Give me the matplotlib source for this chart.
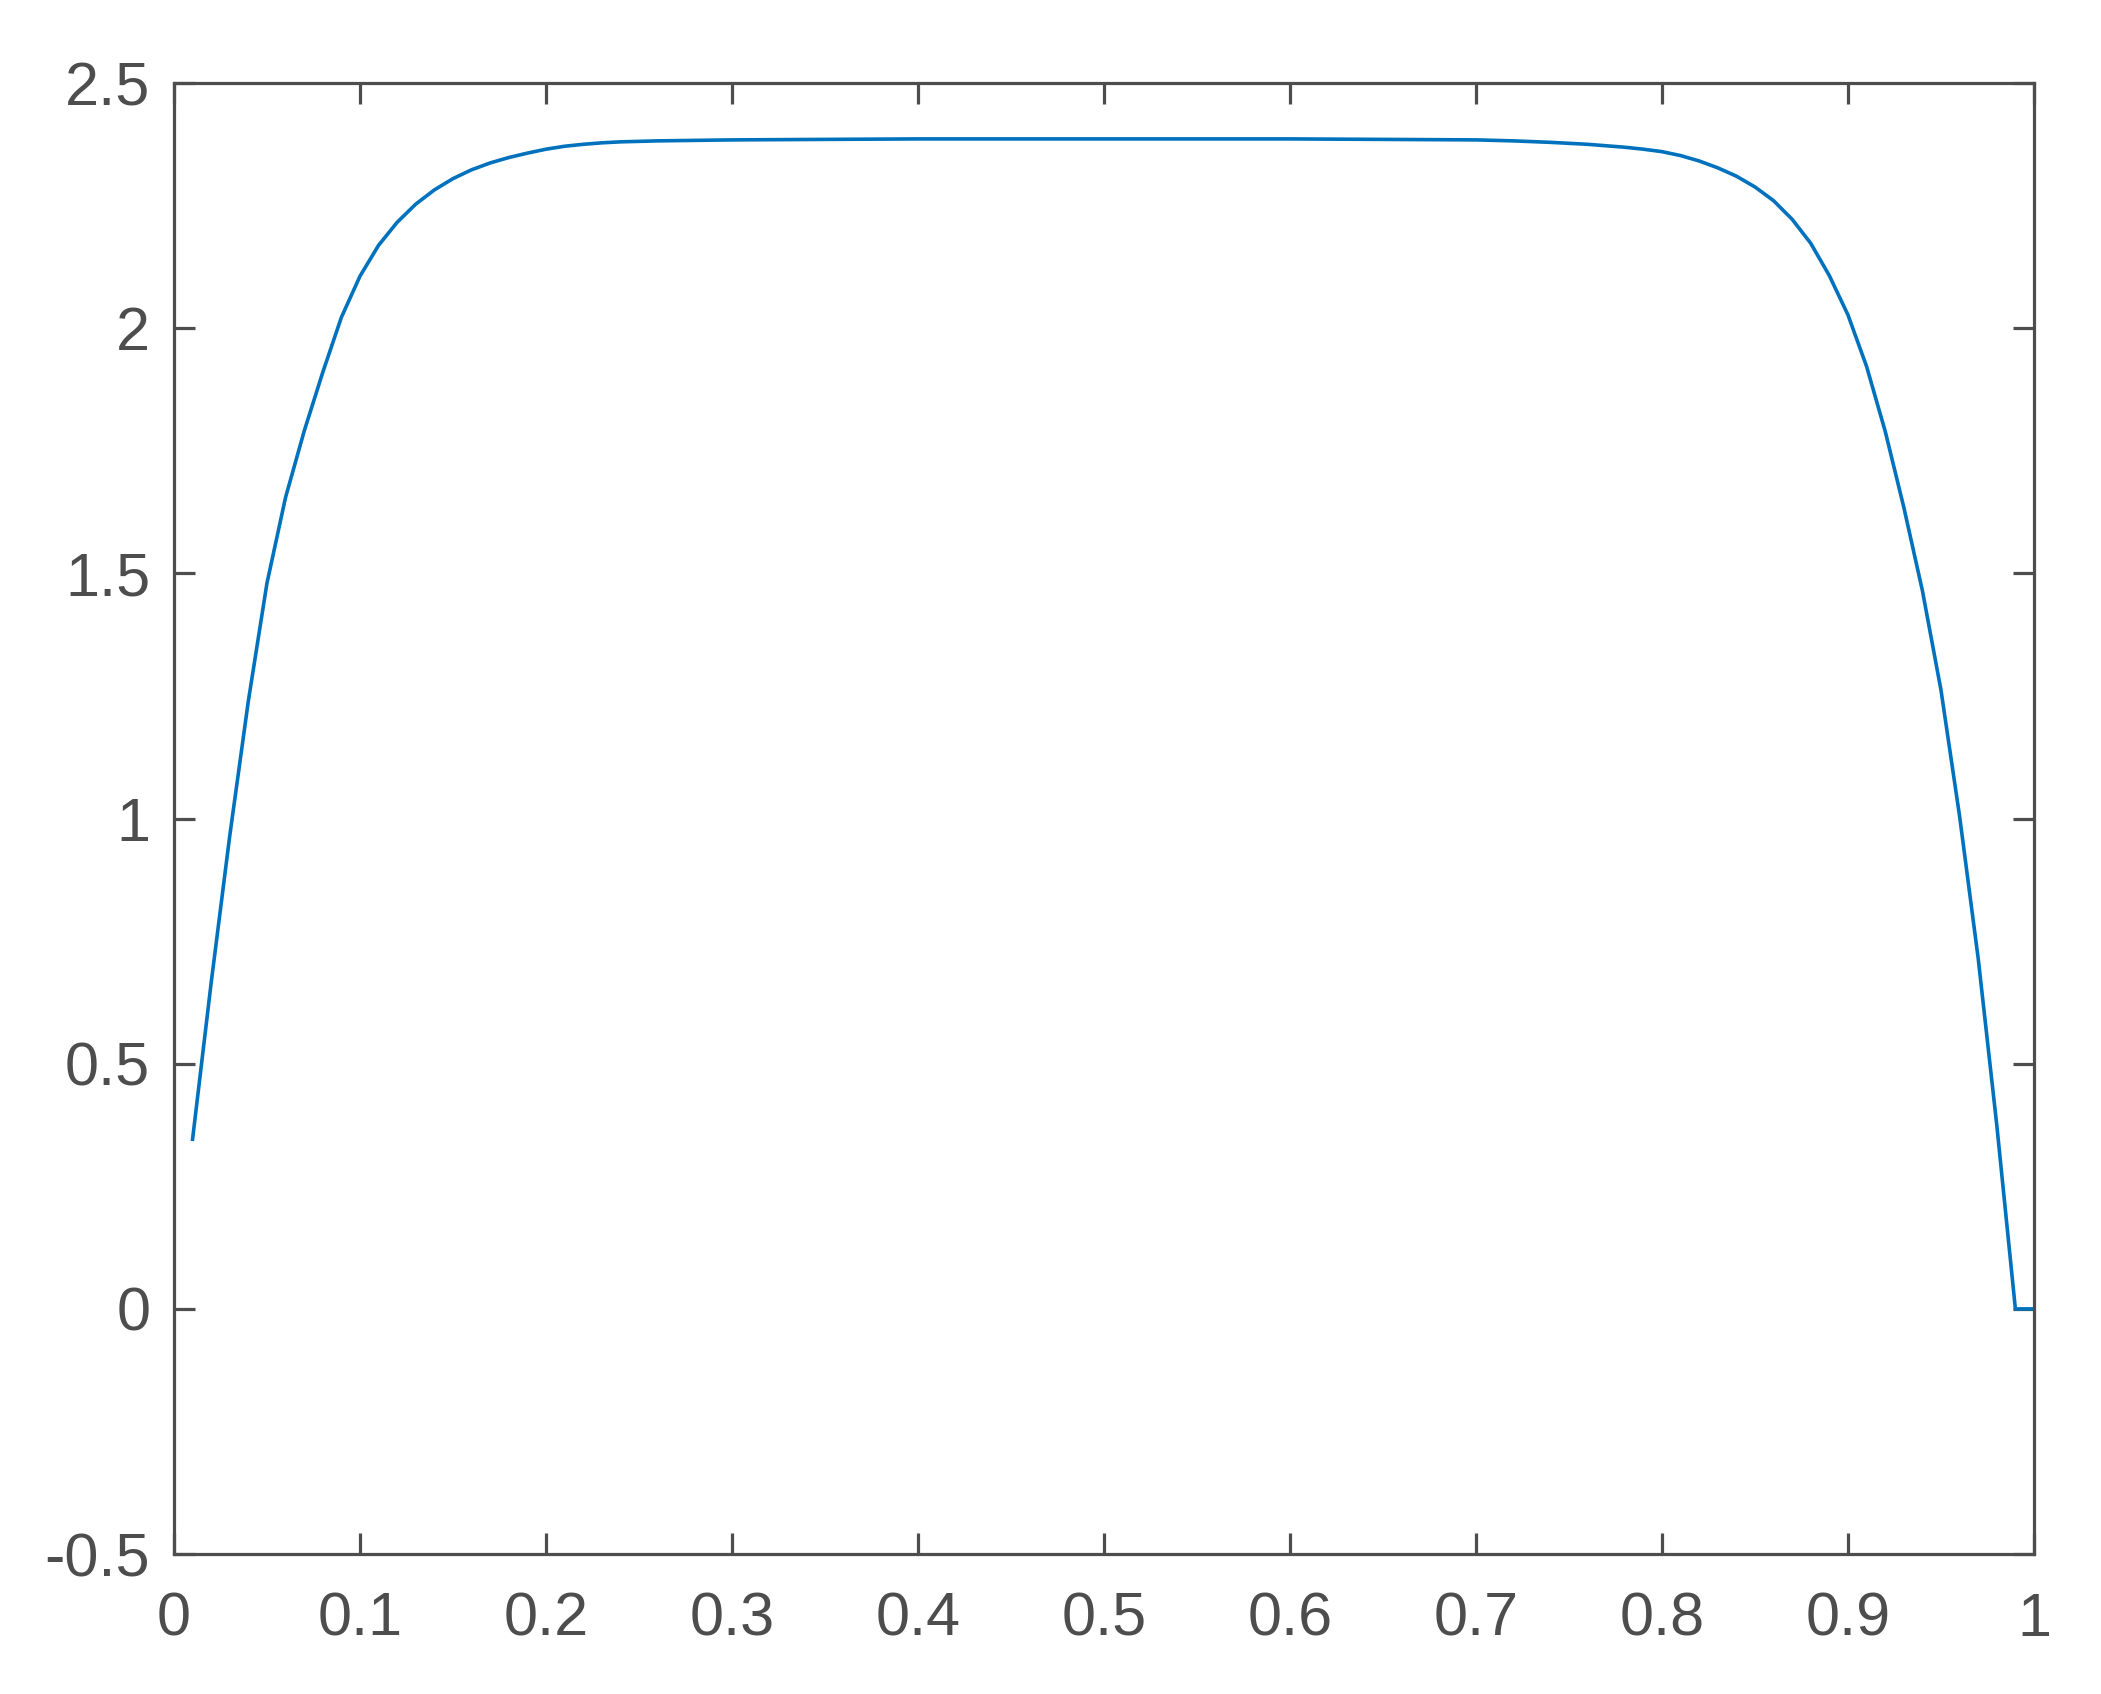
import numpy as np
import matplotlib
matplotlib.use("Agg")
import matplotlib.pyplot as plt

# values
x = [0.01, 0.02, 0.03, 0.04, 0.05, 0.06, 0.07, 0.08, 0.09, 0.10,
     0.11, 0.12, 0.13, 0.14, 0.15, 0.16, 0.17, 0.18, 0.19, 0.20,
     0.21, 0.22, 0.23, 0.24, 0.25, 0.26, 0.28, 0.30, 0.35, 0.40,
     0.50, 0.60, 0.65, 0.70, 0.72, 0.74, 0.76, 0.78, 0.79, 0.80,
     0.81, 0.82, 0.83, 0.84, 0.85, 0.86, 0.87, 0.88, 0.89, 0.90,
     0.91, 0.92, 0.93, 0.94, 0.95, 0.96, 0.97, 0.98, 0.99, 1.00]
y = [0.346, 0.665, 0.965, 1.24, 1.48, 1.655, 1.79, 1.91, 2.022, 2.106,
     2.169, 2.216, 2.253, 2.282, 2.305, 2.323, 2.337, 2.348, 2.357, 2.365,
     2.371, 2.375, 2.378, 2.380, 2.381, 2.382, 2.383, 2.384, 2.385, 2.386,
     2.386, 2.386, 2.385, 2.384, 2.382, 2.379, 2.375, 2.369, 2.365, 2.360,
     2.352, 2.341, 2.327, 2.310, 2.288, 2.260, 2.222, 2.173, 2.107, 2.027,
     1.922, 1.790, 1.635, 1.465, 1.262, 1.005, 0.715, 0.375, 0.0, 0.0]

xticks = [0, 0.1, 0.2, 0.3, 0.4, 0.5, 0.6, 0.7, 0.8, 0.9, 1]
xticklabels = ["0", "0.1", "0.2", "0.3", "0.4", "0.5", "0.6", "0.7", "0.8", "0.9", "1"]
yticks = [-0.5, 0, 0.5, 1, 1.5, 2, 2.5]
yticklabels = ["-0.5", "0", "0.5", "1", "1.5", "2", "2.5"]

gray = "#4d4d4d"
plt.rcParams["font.family"] = ["Liberation Sans", "DejaVu Sans"]

fig = plt.figure(figsize=(21.01, 16.94), dpi=100)
ax = fig.add_axes([0.0828, 0.0826, 0.8853, 0.8684])
ax.plot(x, y, color="#0072BD", linewidth=2.6)

ax.set_xlim(0, 1)
ax.set_ylim(-0.5, 2.5)
ax.set_xticks(xticks)
ax.set_xticklabels(xticklabels)
ax.set_yticks(yticks)
ax.set_yticklabels(yticklabels)

for s in ax.spines.values():
    s.set_color(gray)
    s.set_linewidth(2.3)
ax.tick_params(direction="in", length=15, width=2.3, colors=gray,
               labelsize=44, top=True, right=True)
ax.tick_params(axis="x", pad=27)
ax.tick_params(axis="y", pad=17)

fig.savefig("out.png", dpi=100, facecolor="white")
